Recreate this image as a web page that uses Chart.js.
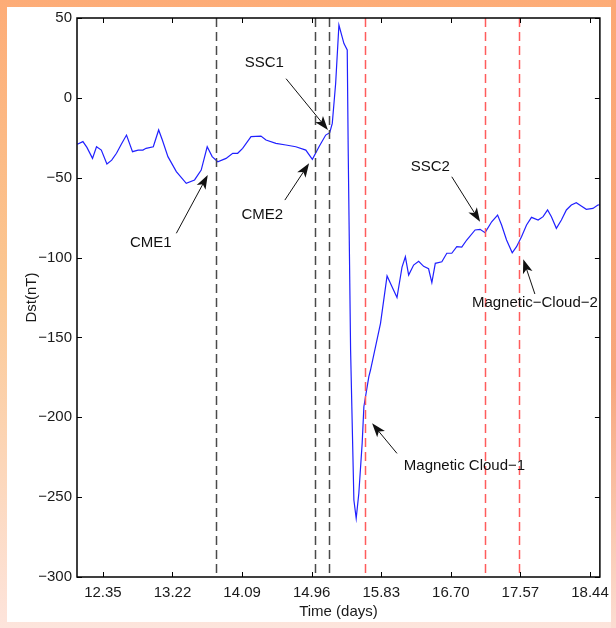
<!DOCTYPE html>
<html>
<head>
<meta charset="utf-8">
<script src="https://cdn.jsdelivr.net/npm/chart.js@4.4.1/dist/chart.umd.min.js"></script>
<style>
  html, body { margin: 0; padding: 0; background: #fff; }
  canvas { display: block; }
</style>
</head>
<body>
<canvas id="dstChart" width="616" height="628"></canvas>
<script>
// Dst index vs time (days)
const timeDays = [
  12.03, 12.10, 12.15, 12.22, 12.27, 12.33, 12.40, 12.46, 12.52, 12.58,
  12.645, 12.72, 12.79, 12.85, 12.89, 12.98, 13.047, 13.093, 13.163, 13.268,
  13.392, 13.496, 13.579, 13.654, 13.716, 13.786, 13.89, 13.973, 14.035, 14.097,
  14.202, 14.326, 14.389, 14.513, 14.638, 14.762, 14.887, 14.969, 15.052, 15.136,
  15.186, 15.218, 15.26, 15.301, 15.364, 15.405, 15.417, 15.447, 15.488, 15.517,
  15.55, 15.592, 15.613, 15.675, 15.696, 15.821, 15.903, 15.965, 16.027, 16.09,
  16.132, 16.173, 16.235, 16.298, 16.36, 16.422, 16.463, 16.506, 16.588, 16.65,
  16.712, 16.775, 16.837, 16.899, 17.004, 17.066, 17.128, 17.211, 17.285, 17.335,
  17.397, 17.468, 17.522, 17.584, 17.647, 17.709, 17.792, 17.854, 17.91, 17.958,
  18.02, 18.083, 18.145, 18.207, 18.269, 18.331, 18.394, 18.477, 18.539, 18.56
];
const dstValues = [
  -29, -27.4, -31, -37.9, -30.6, -32.7, -41.4, -39, -34.7, -29,
  -23.3, -33.7, -32.7, -32.7, -31.6, -30.6, -20.1, -26.4, -36.8, -46.2,
  -53.5, -51.4, -45.2, -30.6, -36.8, -40, -37.9, -34.7, -34.7, -31.6,
  -24.3, -23.9, -26.4, -28.5, -29.5, -30.6, -32.7, -38.5, -30.6, -23.3,
  -21.8, -16, 9, 45.6, 34, 30, -32.6, -158, -251.8, -263.3,
  -247.6, -216, -193.4, -174.6, -170.4, -141.2, -111.5, -118.2, -125, -106,
  -99.5, -111, -104.7, -102.3, -105.5, -107, -115.7, -103.6, -102.6, -97.3,
  -97.3, -93.2, -93.5, -89, -82.7, -82.3, -84.4, -77.6, -73.4, -79.6,
  -89, -97, -93.2, -86.9, -79.6, -74.8, -76.5, -74.4, -70.2, -74.4,
  -81.7, -76.5, -70.2, -67.1, -65.6, -67.7, -69.8, -69.2, -67.1, -67
];

const xTicks = [12.35, 13.22, 14.09, 14.96, 15.83, 16.70, 17.57, 18.44];
const yTicks = [-300, -250, -200, -150, -100, -50, 0, 50];

// event markers (days)
const cmeTimes = [13.77, 15.003, 15.177];
const cloudTimes = [15.625, 17.132, 17.555];

// labels: text centre, arrow tail, arrow tip  (days, nT)
const noteText = ['CME1', 'CME2', 'SSC1', 'SSC2', 'Magnetic\u2212Cloud\u22122', 'Magnetic Cloud\u22121'];
const noteAt   = [[12.948, -90.9], [14.343, -73.4], [14.367, 21.8], [16.443, -43.1], [17.751, -128.6], [16.871, -230.5]];
const noteTail = [[13.268, -84.8], [14.625, -64.0], [14.64, 12.0], [16.712, -49.4], [17.751, -122.8], [16.027, -222.6]];
const noteTip  = [[13.661, -48.3], [14.928, -41.0], [15.164, -20.1], [17.066, -77.6], [17.606, -101.1], [15.716, -203.8]];

Chart.defaults.font.family = "'Liberation Sans', Arial, Helvetica, sans-serif";
Chart.defaults.font.size = 15;
Chart.defaults.color = '#1a1a1a';

const minus = v => String(v).replace('-', '\u2212');

const framePlugin = {
  id: 'frame',
  beforeDraw(chart) {
    const ctx = chart.ctx;
    const W = chart.width, H = chart.height;
    ctx.save();
    const g = ctx.createLinearGradient(0, 0, 0, H);
    g.addColorStop(0, '#fdac77');
    g.addColorStop(0.45, '#fbc792');
    g.addColorStop(1, '#fde4dc');
    ctx.fillStyle = g;
    ctx.fillRect(0, 0, W, H);
    const gr = ctx.createLinearGradient(0, 0, 0, H);
    gr.addColorStop(0, '#fca875');
    gr.addColorStop(0.6, '#f7a67c');
    gr.addColorStop(1, '#fcdcd2');
    ctx.fillStyle = gr;
    ctx.fillRect(611, 0, W - 611, H);
    ctx.fillStyle = '#ffffff';
    ctx.fillRect(7, 7, 604, 615);
    ctx.restore();
  }
};

function drawArrow(ctx, x0, y0, x1, y1) {
  const a = Math.atan2(y1 - y0, x1 - x0);
  const len = 14, half = 5;
  const c = Math.cos(a), s = Math.sin(a);
  ctx.beginPath();
  ctx.moveTo(x0, y0);
  ctx.lineTo(x1 - c * len * 0.7, y1 - s * len * 0.7);
  ctx.stroke();
  ctx.beginPath();
  ctx.moveTo(x1, y1);
  ctx.lineTo(x1 - c * len - s * half, y1 - s * len + c * half);
  ctx.lineTo(x1 - c * len * 0.75, y1 - s * len * 0.75);
  ctx.lineTo(x1 - c * len + s * half, y1 - s * len - c * half);
  ctx.closePath();
  ctx.fill();
}

const overlayPlugin = {
  id: 'overlay',
  afterDatasetsDraw(chart) {
    const { ctx, chartArea: a, scales: { x } } = chart;
    ctx.save();
    ctx.lineWidth = 1.5;
    ctx.setLineDash([9, 5]);
    ctx.strokeStyle = '#4a4a4a';
    cmeTimes.forEach(t => {
      const px = Math.round(x.getPixelForValue(t)) + 0.5;
      ctx.beginPath(); ctx.moveTo(px, a.top); ctx.lineTo(px, a.bottom); ctx.stroke();
    });
    ctx.strokeStyle = '#ff5c5c';
    cloudTimes.forEach(t => {
      const px = Math.round(x.getPixelForValue(t)) + 0.5;
      ctx.beginPath(); ctx.moveTo(px, a.top); ctx.lineTo(px, a.bottom); ctx.stroke();
    });
    ctx.restore();
  },
  afterDraw(chart) {
    const { ctx, chartArea: a, scales: { x, y } } = chart;
    ctx.save();
    // axes box
    ctx.strokeStyle = '#000';
    ctx.lineWidth = 1.5;
    ctx.strokeRect(a.left, a.top, a.right - a.left, a.bottom - a.top);
    // inward ticks on all four sides
    ctx.lineWidth = 1;
    const tl = 5;
    xTicks.forEach(v => {
      const px = Math.round(x.getPixelForValue(v)) + 0.5;
      ctx.beginPath();
      ctx.moveTo(px, a.bottom); ctx.lineTo(px, a.bottom - tl);
      ctx.moveTo(px, a.top); ctx.lineTo(px, a.top + tl);
      ctx.stroke();
    });
    yTicks.forEach(v => {
      const py = Math.round(y.getPixelForValue(v)) + 0.5;
      ctx.beginPath();
      ctx.moveTo(a.left, py); ctx.lineTo(a.left + tl, py);
      ctx.moveTo(a.right, py); ctx.lineTo(a.right - tl, py);
      ctx.stroke();
    });
    // event labels with arrows
    ctx.fillStyle = '#111';
    ctx.strokeStyle = '#111';
    ctx.lineWidth = 1;
    ctx.font = "15px 'Liberation Sans', Arial, sans-serif";
    ctx.textAlign = 'center';
    ctx.textBaseline = 'middle';
    noteText.forEach((txt, i) => {
      ctx.fillText(txt, x.getPixelForValue(noteAt[i][0]), y.getPixelForValue(noteAt[i][1]));
      drawArrow(ctx,
        x.getPixelForValue(noteTail[i][0]), y.getPixelForValue(noteTail[i][1]),
        x.getPixelForValue(noteTip[i][0]), y.getPixelForValue(noteTip[i][1]));
    });
    ctx.restore();
  }
};

new Chart(document.getElementById('dstChart'), {
  type: 'scatter',
  data: {
    datasets: [{
      label: 'Dst',
      data: timeDays.map((t, i) => ({ x: t, y: dstValues[i] })),
      showLine: true,
      borderColor: '#2020ff',
      borderWidth: 1.2,
      pointRadius: 0,
      tension: 0
    }]
  },
  options: {
    responsive: false,
    animation: false,
    layout: { padding: { left: 0, top: 18, right: 14, bottom: 0 } },
    plugins: { legend: { display: false }, tooltip: { enabled: false } },
    scales: {
      x: {
        type: 'linear',
        min: 12.026,
        max: 18.564,
        afterBuildTicks: s => { s.ticks = xTicks.map(v => ({ value: v })); },
        afterFit: s => { s.height = 51; },
        grid: { display: false, drawTicks: false },
        border: { display: false },
        ticks: { padding: 7, maxRotation: 0, autoSkip: false, callback: v => v.toFixed(2) },
        title: { display: true, text: 'Time (days)', padding: { top: 0, bottom: 7 } }
      },
      y: {
        min: -300,
        max: 50,
        afterBuildTicks: s => { s.ticks = yTicks.map(v => ({ value: v })); },
        afterFit: s => { s.width = 77; },
        grid: { display: false, drawTicks: false },
        border: { display: false },
        ticks: { padding: 5, callback: v => minus(v) },
        title: { display: true, text: 'Dst(nT)', padding: { top: 23, bottom: 0 } }
      }
    }
  },
  plugins: [framePlugin, overlayPlugin]
});
</script>
</body>
</html>
